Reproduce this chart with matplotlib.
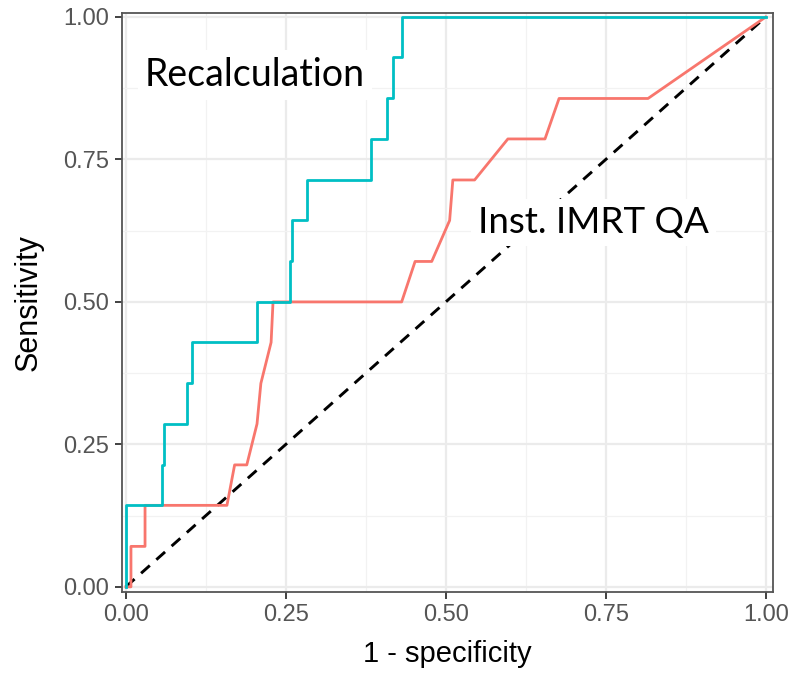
import matplotlib
matplotlib.use('Agg')
import matplotlib.pyplot as plt

# ROC curve points (1 - specificity, sensitivity)
recalc_fpr = [0.0, 0.0, 0.056, 0.056, 0.06, 0.06, 0.095, 0.095, 0.103, 0.103,
              0.205, 0.205, 0.256, 0.256, 0.259, 0.259, 0.283, 0.283, 0.383, 0.383,
              0.408, 0.408, 0.417, 0.417, 0.431, 0.431, 1.0]
recalc_tpr = [0.0, 0.143, 0.143, 0.214, 0.214, 0.286, 0.286, 0.357, 0.357, 0.429,
              0.429, 0.5, 0.5, 0.571, 0.571, 0.643, 0.643, 0.714, 0.714, 0.786,
              0.786, 0.857, 0.857, 0.929, 0.929, 1.0, 1.0]

inst_fpr = [0.0, 0.008, 0.008, 0.03, 0.03, 0.158, 0.170, 0.189, 0.205, 0.211,
            0.227, 0.230, 0.431, 0.452, 0.478, 0.506, 0.511, 0.545, 0.597, 0.655,
            0.677, 0.816, 1.0]
inst_tpr = [0.0, 0.0, 0.071, 0.071, 0.143, 0.143, 0.214, 0.214, 0.286, 0.357,
            0.429, 0.5, 0.5, 0.571, 0.571, 0.643, 0.714, 0.714, 0.786, 0.786,
            0.857, 0.857, 1.0]

ticks = [0.0, 0.25, 0.5, 0.75, 1.0]
tick_labels = ['0.00', '0.25', '0.50', '0.75', '1.00']
minor_ticks = [0.125, 0.375, 0.625, 0.875]

fig = plt.figure(figsize=(8, 6.77), dpi=100)
ax = fig.add_axes([0.1525, 0.1256, 0.8135, 0.8552])

# ggplot theme_bw look
ax.set_facecolor('white')
ax.set_xticks(ticks)
ax.set_yticks(ticks)
ax.set_xticks(minor_ticks, minor=True)
ax.set_yticks(minor_ticks, minor=True)
ax.grid(True, which='major', color='#EBEBEB', linewidth=1.6)
ax.grid(True, which='minor', color='#F2F2F2', linewidth=0.9)
ax.set_axisbelow(True)
for s in ax.spines.values():
    s.set_color('#555555')
    s.set_linewidth(1.3)
ax.tick_params(which='major', length=5, width=1.3, color='#333333',
               labelsize=17, labelcolor='#555555', pad=4)
ax.tick_params(which='minor', length=0)
ax.set_xticklabels(tick_labels, family='Liberation Sans')
ax.set_yticklabels(tick_labels, family='Liberation Sans')

ax.plot([0, 1], [0, 1], color='black', linestyle=(0, (4, 3)), linewidth=2.1, zorder=2)
ax.plot(inst_fpr, inst_tpr, color='#F8766D', linewidth=2.0, zorder=3)
ax.plot(recalc_fpr, recalc_tpr, color='#00BFC4', linewidth=2.0, zorder=4)

box = dict(facecolor='white', edgecolor='none', pad=5)
ax.text(0.030, 0.879, 'Recalculation', fontsize=27, family='Lato',
        ha='left', va='baseline', color='black', bbox=box, zorder=5)
ax.text(0.55, 0.621, 'Inst. IMRT QA', fontsize=26.5, family='Lato',
        ha='left', va='baseline', color='black', bbox=box, zorder=5)

ax.set_xlim(-0.006, 1.011)
ax.set_ylim(-0.009, 1.007)
ax.set_xlabel('1 - specificity', fontsize=21, family='Liberation Sans', labelpad=10)
ax.set_ylabel('Sensitivity', fontsize=22, family='Liberation Sans', labelpad=14)

fig.savefig('out.png', dpi=100)
